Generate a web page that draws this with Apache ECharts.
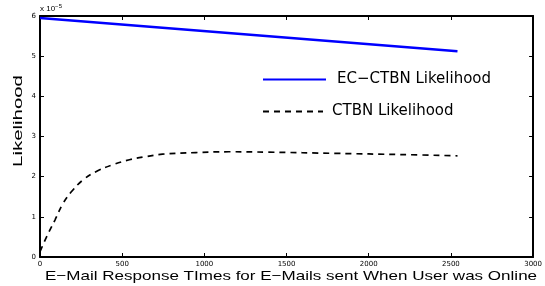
<!DOCTYPE html>
<html>
<head>
<meta charset="utf-8">
<script src="https://cdn.jsdelivr.net/npm/echarts@6/dist/echarts.min.js"></script>
<style>
  html, body { margin: 0; padding: 0; background: #fff; }
  #main { width: 545px; height: 286px; }
</style>
</head>
<body>
<div id="main"></div>
<script>
// values (y in units of 1e-5)
var xTicks = [0, 500, 1000, 1500, 2000, 2500, 3000];
var ecCtbnX = [0, 2540];
var ecCtbnY = [5.95, 5.12];
var ctbnX = [0, 40, 91, 141, 192, 262, 343, 444, 544, 645, 746, 948, 1149, 1391, 1800, 2200, 2540];
var ctbnY = [0.13, 0.5, 0.92, 1.34, 1.63, 1.92, 2.13, 2.3, 2.42, 2.5, 2.56, 2.6, 2.62, 2.61, 2.58, 2.55, 2.52];
var xTitle = 'E\u2212Mail Response TImes for E\u2212Mails sent When User was Online';
var yTitle = 'Likelihood';

function pairs(xs, ys) {
  return xs.map(function (x, i) { return [x, ys[i]]; });
}

var font = 'Liberation Sans, Arial, sans-serif';
var tickFont = 'DejaVu Sans, sans-serif';
var chart = echarts.init(document.getElementById('main'));

function axisBase(show) {
  return {
    type: 'value',
    axisLine: { show: true, onZero: false, lineStyle: { color: '#000', width: 2 } },
    axisTick: { show: true, inside: true, length: 4, lineStyle: { color: '#000' } },
    splitLine: { show: false },
    axisLabel: { show: show, color: '#000', fontSize: 7, fontFamily: tickFont,
      formatter: function (v) { return String(v); } }
  };
}

var xBottom = axisBase(true);
xBottom.min = 0; xBottom.max = 3000; xBottom.interval = 500; xBottom.position = 'bottom';
xBottom.axisLabel.margin = 4;
var xTop = axisBase(false);
xTop.min = 0; xTop.max = 3000; xTop.interval = 500; xTop.position = 'top';

var yLeft = axisBase(true);
yLeft.min = 0; yLeft.max = 6; yLeft.interval = 1; yLeft.position = 'left';
yLeft.axisLabel.margin = 4;
var yRight = axisBase(false);
yRight.min = 0; yRight.max = 6; yRight.interval = 1; yRight.position = 'right';

function legendText(pad) {
  return { color: '#000', fontSize: 15, fontFamily: 'DejaVu Sans, sans-serif', padding: [0, 0, 0, pad] };
}

chart.setOption({
  animation: false,
  backgroundColor: '#fff',
  grid: { left: 40, right: 9, top: 16, bottom: 29, containLabel: false },
  xAxis: [xBottom, xTop],
  yAxis: [yLeft, yRight],
  legend: [
    {
      data: ['EC\u2212CTBN Likelihood'],
      left: 262, top: 72, padding: 0, itemWidth: 63, itemHeight: 14,
      itemStyle: { opacity: 0 },
      textStyle: legendText(6)
    },
    {
      data: ['CTBN Likelihood'],
      left: 262, top: 104, padding: 0, itemWidth: 60, itemHeight: 14,
      itemStyle: { opacity: 0 },
      textStyle: legendText(4)
    }
  ],
  graphic: [
    {
      type: 'text', left: 40, top: 3,
      style: {
        text: '{a|x 10}{b|\u22125}',
        rich: {
          a: { fontSize: 8, fill: '#000', fontFamily: font },
          b: { fontSize: 6, fill: '#000', fontFamily: font, verticalAlign: 'top', padding: [0, 0, 6, 0] }
        }
      }
    },
    {
      type: 'text', x: 291, y: 276, scaleX: 1.31,
      style: { text: xTitle, fill: '#000', fontSize: 13, fontFamily: font, align: 'center', verticalAlign: 'middle' }
    },
    {
      type: 'text', x: 19, y: 121, rotation: Math.PI / 2, scaleX: 1.7,
      style: { text: yTitle, fill: '#000', fontSize: 12, fontFamily: font, align: 'center', verticalAlign: 'middle' }
    }
  ],
  series: [
    {
      name: 'EC\u2212CTBN Likelihood', type: 'line', symbol: 'none',
      data: pairs(ecCtbnX, ecCtbnY),
      lineStyle: { color: '#0000ff', width: 2.5 },
      itemStyle: { color: '#0000ff' }
    },
    {
      name: 'CTBN Likelihood', type: 'line', symbol: 'none', smooth: 0.4,
      data: pairs(ctbnX, ctbnY),
      lineStyle: { color: '#000', width: 1.7, type: [6, 5] },
      itemStyle: { color: '#000' }
    }
  ]
});
</script>
</body>
</html>
